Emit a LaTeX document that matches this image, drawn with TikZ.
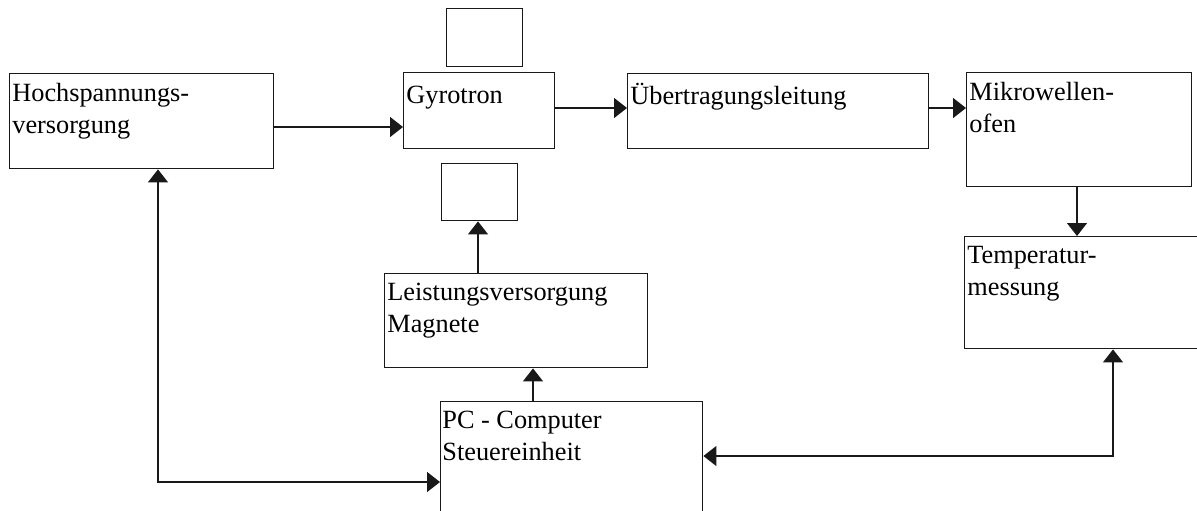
\documentclass[tikz,border=0pt]{standalone}
\usepackage{fontspec}
\setmainfont{Liberation Serif}
\usepackage{tikz}
\usetikzlibrary{arrows.meta,positioning}
\definecolor{strich}{RGB}{25,25,25}

\begin{document}
\begin{tikzpicture}[x=0.5pt,y=-0.5pt,
    kasten/.style={draw=strich,line width=0.7pt,anchor=north west,inner sep=0pt},
    beschr/.style={anchor=north west,inner sep=0pt,align=left,xshift=1.5pt,yshift=-5pt,
                   font=\fontsize{13.15}{16}\selectfont,
                   execute at begin node=\rule{0pt}{12pt}},
    pfeil/.style={strich,line width=0.7pt,-{Triangle[length=6.5pt,width=10pt]}},
    doppel/.style={strich,line width=0.7pt,
                   {Triangle[length=6.5pt,width=10pt]}-{Triangle[length=6.5pt,width=10pt]}}]
  \useasboundingbox (0,0) rectangle (1197,510);
  \clip (0,0) rectangle (1197,510);
  % obere reihe
  \node[kasten,minimum width=132pt,minimum height=47.5pt,
        label={[beschr]north west:Hochspannungs-\\versorgung}] (hoch) at (9,73) {};
  \node[kasten,minimum width=75.5pt,minimum height=38pt,
        label={[beschr,yshift=1.5pt]north west:Gyrotron}] (gyro) at (403,72) {};
  \node[kasten,minimum width=38pt,minimum height=29pt] (oben) at (446,8) {};
  \node[kasten,minimum width=38pt,minimum height=28.5pt] (unten) at (441,163) {};
  \node[kasten,minimum width=150.5pt,minimum height=37.5pt,
        label={[beschr,yshift=1.5pt]north west:Übertragungsleitung}] (ueber) at (627,73) {};
  \node[kasten,minimum width=112.5pt,minimum height=57pt,
        label={[beschr]north west:Mikrowellen-\\ofen}] (mikro) at (966,72) {};
  % rechts : messung
  \node[kasten,minimum width=123pt,minimum height=56pt,
        label={[beschr]north west:Temperatur-\\messung}] (temp) at (964,236) {};
  % mitte : magnete und rechner
  \node[kasten,minimum width=131.5pt,minimum height=47pt,
        label={[beschr]north west:Leistungsversorgung\\Magnete}] (leist) at (384,273) {};
  \node[kasten,minimum width=131pt,minimum height=64.5pt,
        label={[beschr,xshift=-0.5pt]north west:PC - Computer\\Steuereinheit}] (pc) at (440,401) {};
  \coordinate (eckeL) at (158,482);
  \coordinate (eckeR) at (1113,456);
  % verbindungen
  \draw[pfeil](hoch.east |- 0,127)--(gyro.west |- 0,127);
  \draw[pfeil](gyro.east |- 0,108)--(ueber.west |- 0,108);
  \draw[pfeil](ueber.east |- 0,108)--(mikro.west |- 0,108);
  \draw[pfeil](mikro.south -| 1077,0)--(temp.north -| 1077,0);
  \draw[pfeil](leist.north -| 478,0)--(unten.south -| 478,0);
  \draw[pfeil](pc.north -| 533,0)--(leist.south -| 533,0);
  \draw[doppel](hoch.south -| eckeL)--(eckeL)--(pc.west |- eckeL);
  \draw[doppel](pc.east |- eckeR)--(eckeR)--(temp.south -| eckeR);
\end{tikzpicture}
\end{document}
